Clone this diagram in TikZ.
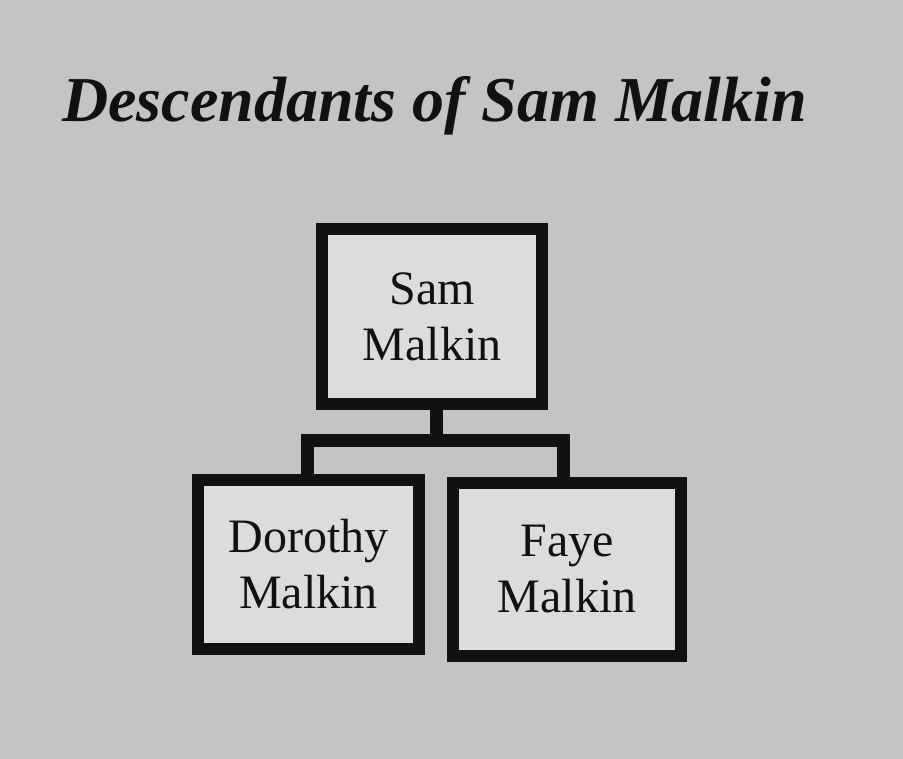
\documentclass[tikz,border=0pt]{standalone}
\usepackage{fontspec}
\setmainfont{Liberation Serif}
\definecolor{bg}{HTML}{C4C4C4}
\definecolor{boxfill}{HTML}{DCDCDC}
\definecolor{ink}{HTML}{111111}
\tikzset{
  person/.style={draw=ink, fill=boxfill, line width=12.5pt, inner sep=0pt, outer sep=0pt, align=center,
    text=ink, font=\fontsize{48}{56}\selectfont},
  conn/.style={draw=ink, line width=13pt}
}
\begin{document}
\begin{tikzpicture}[x=1pt,y=-1pt]
\fill[bg] (0,0) rectangle (903,759);
\useasboundingbox (0,0) rectangle (903,759);
\node[anchor=base west, inner sep=0pt, text=ink, font=\fontsize{64}{70}\selectfont\bfseries\itshape] (title) at (62,122) {Descendants of Sam Malkin};
\node[person, minimum width=220pt, minimum height=175pt] (sam) at (432,316.5) {Sam\\Malkin};
\node[person, minimum width=221pt, minimum height=169pt] (dor) at (308.5,564.5) {Dorothy\\Malkin};
\node[person, minimum width=228pt, minimum height=173pt] (faye) at (567,569.5) {Faye\\Malkin};
\coordinate (j) at (436,441);
\draw[conn] ([xshift=4pt]sam.south) -- (j);
\draw[conn] ([xshift=-1.5pt]dor.north) |- (j) -| ([xshift=-4pt]faye.north);
\end{tikzpicture}
\end{document}
